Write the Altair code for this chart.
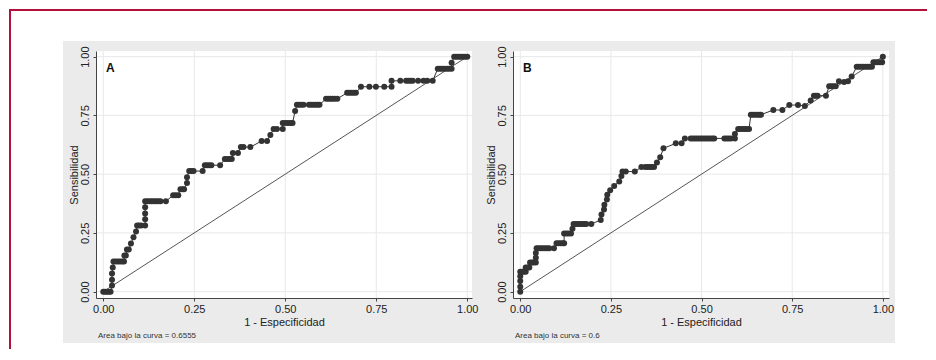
import altair as alt
import pandas as pd

# ---------------- data ----------------
fpr_a = [0, 0.005, 0.01, 0.015, 0.02, 0.024, 0.024, 0.024, 0.026, 0.028, 0.034, 0.04, 0.046, 0.052, 0.057,
         0.058, 0.062, 0.065, 0.07, 0.076, 0.083, 0.09, 0.093, 0.098, 0.104, 0.115, 0.115, 0.115, 0.115, 0.115,
         0.121, 0.127, 0.133, 0.139, 0.145, 0.151, 0.157, 0.172, 0.192, 0.199, 0.206, 0.212, 0.218, 0.222,
         0.23, 0.23, 0.236, 0.242, 0.248, 0.273, 0.279, 0.285, 0.291, 0.297, 0.321, 0.334, 0.34, 0.347, 0.353,
         0.356, 0.37, 0.378, 0.385, 0.404, 0.435, 0.45, 0.459, 0.468, 0.477, 0.493, 0.493, 0.5, 0.507, 0.514,
         0.52, 0.527, 0.532, 0.538, 0.544, 0.55, 0.565, 0.571, 0.577, 0.583, 0.589, 0.594, 0.612, 0.618, 0.624,
         0.63, 0.636, 0.643, 0.67, 0.676, 0.682, 0.688, 0.694, 0.708, 0.731, 0.749, 0.772, 0.792, 0.792, 0.816,
         0.832, 0.838, 0.844, 0.85, 0.865, 0.88, 0.89, 0.905, 0.919, 0.925, 0.931, 0.937, 0.944, 0.95, 0.957,
         0.957, 0.964, 0.97, 0.976, 0.982, 0.988, 0.994, 1.0]
tpr_a = [0, 0, 0, 0, 0, 0.026, 0.051, 0.077, 0.103, 0.128, 0.128, 0.128, 0.128, 0.128, 0.128,
         0.154, 0.154, 0.179, 0.179, 0.205, 0.231, 0.256, 0.282, 0.282, 0.282, 0.282, 0.308, 0.333, 0.359, 0.385,
         0.385, 0.385, 0.385, 0.385, 0.385, 0.385, 0.385, 0.385, 0.41, 0.41, 0.41, 0.436, 0.436, 0.436,
         0.462, 0.487, 0.513, 0.513, 0.513, 0.513, 0.538, 0.538, 0.538, 0.538, 0.538, 0.564, 0.564, 0.564, 0.564,
         0.59, 0.59, 0.615, 0.615, 0.615, 0.641, 0.641, 0.667, 0.692, 0.692, 0.692, 0.718, 0.718, 0.718, 0.718,
         0.718, 0.769, 0.795, 0.795, 0.795, 0.795, 0.795, 0.795, 0.795, 0.795, 0.795, 0.795, 0.821, 0.821, 0.821,
         0.821, 0.821, 0.821, 0.846, 0.846, 0.846, 0.846, 0.846, 0.872, 0.872, 0.872, 0.872, 0.872, 0.897, 0.897,
         0.897, 0.897, 0.897, 0.897, 0.897, 0.897, 0.897, 0.897, 0.949, 0.949, 0.949, 0.949, 0.949, 0.949, 0.949,
         0.974, 1.0, 1.0, 1.0, 1.0, 1.0, 1.0, 1.0]

fpr_b = [0, 0, 0, 0, 0, 0.005, 0.01, 0.015, 0.015, 0.02, 0.025, 0.027, 0.032, 0.037, 0.043, 0.043, 0.043,
         0.045, 0.05, 0.056, 0.062, 0.068, 0.074, 0.08, 0.093, 0.1, 0.106, 0.112, 0.118, 0.121, 0.121, 0.127,
         0.133, 0.14, 0.144, 0.147, 0.153, 0.159, 0.165, 0.171, 0.177, 0.182, 0.196, 0.222, 0.224, 0.231, 0.232,
         0.239, 0.24, 0.248, 0.259, 0.273, 0.279, 0.282, 0.291, 0.316, 0.334, 0.345, 0.351, 0.357, 0.363, 0.369,
         0.377, 0.386, 0.395, 0.429, 0.445, 0.454, 0.47, 0.476, 0.482, 0.488, 0.494, 0.5, 0.506, 0.512, 0.518,
         0.524, 0.53, 0.535, 0.563, 0.569, 0.575, 0.581, 0.592, 0.592, 0.601, 0.607, 0.613, 0.619, 0.625, 0.631,
         0.636, 0.642, 0.648, 0.654, 0.66, 0.664, 0.698, 0.723, 0.742, 0.766, 0.785, 0.801, 0.81, 0.815, 0.82,
         0.843, 0.852, 0.858, 0.864, 0.87, 0.879, 0.893, 0.904, 0.914, 0.928, 0.934, 0.94, 0.946, 0.952, 0.958,
         0.964, 0.97, 0.974, 0.98, 0.986, 0.992, 0.998, 1.0]
tpr_b = [0, 0.021, 0.045, 0.066, 0.085, 0.085, 0.085, 0.085, 0.103, 0.103, 0.103, 0.124, 0.124, 0.124, 0.124,
         0.144, 0.164, 0.185, 0.185, 0.185, 0.185, 0.185, 0.185, 0.185, 0.185, 0.206, 0.206, 0.206, 0.206, 0.206,
         0.247, 0.247, 0.247, 0.247, 0.268, 0.288, 0.288, 0.288, 0.288, 0.288, 0.288, 0.288, 0.288, 0.305, 0.328,
         0.35, 0.37, 0.392, 0.412, 0.432, 0.45, 0.469, 0.492, 0.511, 0.511, 0.511, 0.53, 0.53, 0.53, 0.53, 0.53,
         0.53, 0.55, 0.572, 0.61, 0.631, 0.631, 0.652, 0.652, 0.652, 0.652, 0.652, 0.652, 0.652, 0.652, 0.652,
         0.652, 0.652, 0.652, 0.652, 0.652, 0.652, 0.652, 0.652, 0.652, 0.671, 0.692, 0.692, 0.692, 0.692, 0.692,
         0.692, 0.753, 0.753, 0.753, 0.753, 0.753, 0.753, 0.773, 0.773, 0.794, 0.794, 0.79, 0.813, 0.834, 0.834,
         0.834, 0.834, 0.874, 0.874, 0.874, 0.874, 0.895, 0.892, 0.895, 0.915, 0.957, 0.957, 0.957, 0.957, 0.957,
         0.957, 0.957, 0.957, 0.976, 0.976, 0.976, 0.976, 0.976, 1.0]

ref_x = [0, 1]
ref_y = [0, 1]
tick_values = [0, 0.25, 0.5, 0.75, 1]
panel_letters = ["A", "B"]
auc_labels = ["Area bajo la curva = 0.6555", "Area bajo la curva = 0.6"]
x_title = "1 - Especificidad"
y_title = "Sensibilidad"

# ---------------- styling ----------------
FONT = "Liberation Sans"
W, H = 376, 247
GRAY = "#ebebeb"
GRID = "#e8e8e8"
INK = "#333333"
AXIS = "#444444"
CRIMSON = "#b3103c"


def panel(fpr, tpr, letter, auc, xdom, gray_left, gray_right, frame=False):
    df = pd.DataFrame({"fpr": fpr, "tpr": tpr, "ord": list(range(len(fpr)))})
    one = pd.DataFrame({"k": [0]})

    X = alt.X("fpr:Q",
              scale=alt.Scale(domain=xdom, nice=False, zero=False),
              axis=alt.Axis(values=tick_values, format=".2f", title=x_title, grid=False, zindex=1,
                            tickSize=3, labelPadding=2, labelFlush=False, domainColor=AXIS, tickColor=AXIS,
                            labelColor="#222222", titleColor="#222222", labelFontSize=11, titleFontSize=11,
                            titleFontWeight="normal", titleY=18, labelFont=FONT, titleFont=FONT))
    Y = alt.Y("tpr:Q",
              scale=alt.Scale(domain=[-0.027, 1.024], nice=False, zero=False),
              axis=alt.Axis(values=tick_values, format=".2f", title=y_title, grid=False, zindex=1,
                            tickSize=3, labelPadding=3, labelAngle=270, labelAlign="center",
                            labelBaseline="bottom", labelFlush=False, domainColor=AXIS, tickColor=AXIS,
                            labelColor="#222222", titleColor="#222222", labelFontSize=11, titleFontSize=11,
                            titleFontWeight="normal", titleX=-17, titleBaseline="bottom",
                            labelFont=FONT, titleFont=FONT))

    bg = alt.Chart(one).mark_rect(color=GRAY, clip=False).encode(
        x=alt.value(gray_left), x2=alt.value(gray_right), y=alt.value(-10), y2=alt.value(292))
    plot_bg = alt.Chart(one).mark_rect(color="white").encode(
        x=alt.value(0), x2=alt.value(W), y=alt.value(0), y2=alt.value(H))
    vgrid = alt.Chart(pd.DataFrame({"fpr": tick_values})).mark_rule(color=GRID, strokeWidth=1).encode(
        x=X, y=alt.value(0), y2=alt.value(H))
    hgrid = alt.Chart(pd.DataFrame({"tpr": tick_values})).mark_rule(color=GRID, strokeWidth=1).encode(
        y=Y, x=alt.value(0), x2=alt.value(W))
    diag = alt.Chart(pd.DataFrame({"fpr": ref_x, "tpr": ref_y})).mark_line(
        color="#555555", strokeWidth=1).encode(x=X, y=Y)
    line = alt.Chart(df).mark_line(color=INK, strokeWidth=1).encode(x=X, y=Y, order="ord:Q")
    pts = alt.Chart(df).mark_circle(size=36, color=INK, opacity=1).encode(x=X, y=Y)
    lab = alt.Chart(one).mark_text(text=letter, font=FONT, fontSize=12, fontWeight="bold",
                                   align="left", baseline="middle", color="#111111").encode(
        x=alt.value(10), y=alt.value(17))
    auc_t = alt.Chart(one).mark_text(text=auc, font=FONT, fontSize=8, align="left",
                                     baseline="middle", color="#333333").encode(
        x=alt.value(2), y=alt.value(285))

    layers = [bg, plot_bg, vgrid, hgrid, diag, line, pts, lab, auc_t]
    if frame:
        top = alt.Chart(one).mark_rule(color=CRIMSON, strokeWidth=2, clip=False).encode(
            x=alt.value(-87), x2=alt.value(831), y=alt.value(-41))
        left = alt.Chart(one).mark_rule(color=CRIMSON, strokeWidth=2, clip=False).encode(
            x=alt.value(-86), y=alt.value(-42), y2=alt.value(298))
        layers += [top, left]
    return alt.layer(*layers).properties(width=W, height=H)


pa = panel(fpr_a, tpr_a, panel_letters[0], auc_labels[0], [-0.02, 1.013], -33, 384, frame=True)
pb = panel(fpr_b, tpr_b, panel_letters[1], auc_labels[1], [-0.02, 1.017], -33, 382)

chart = alt.hconcat(pa, pb, spacing=41, bounds="flush").properties(
    padding=0
).configure(font=FONT).configure_view(strokeWidth=0)

chart.save("out.html", embed_options={"renderer": "svg", "actions": False})
